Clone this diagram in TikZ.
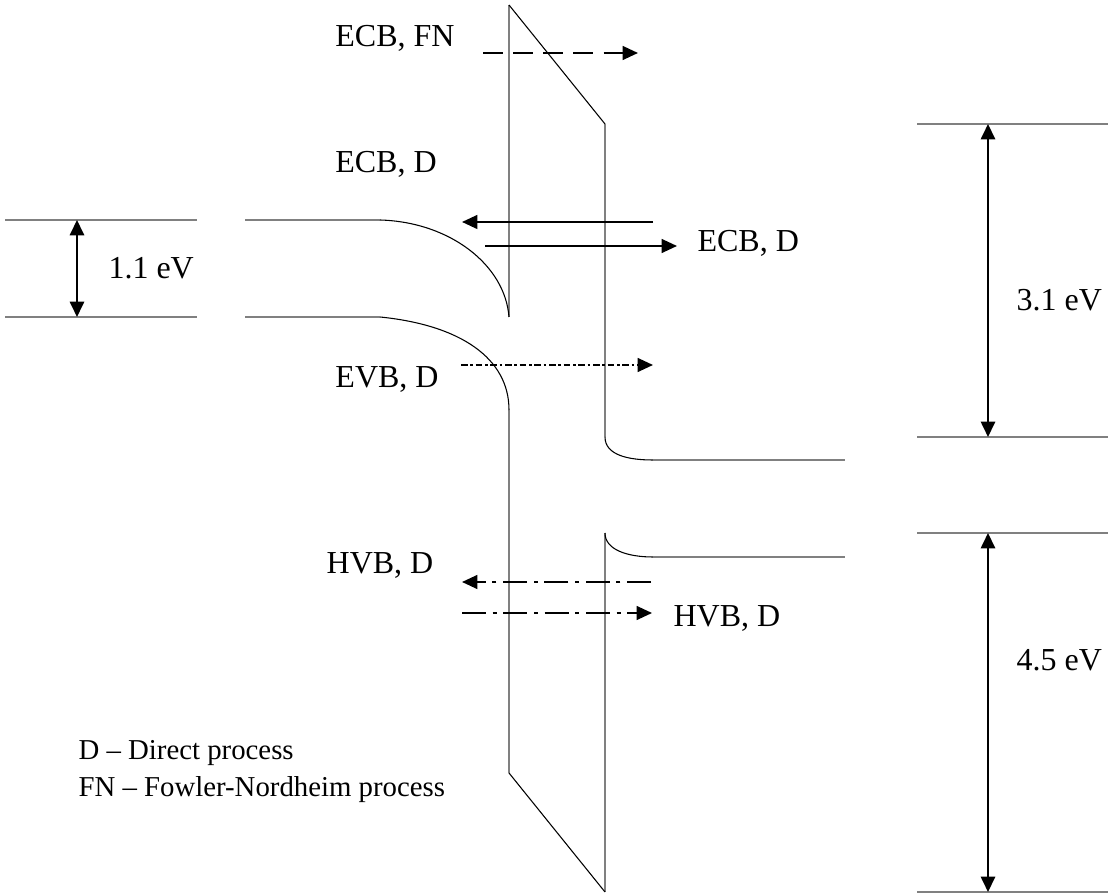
\documentclass[tikz,border=0pt]{standalone}
\usepackage{fontspec}
\setmainfont{Liberation Serif}
\usetikzlibrary{arrows.meta,positioning,calc}

\begin{document}
\begin{tikzpicture}[x=0.375pt,y=-0.375pt,
    band/.style={gray, line width=0.75pt},
    edge/.style={black, line width=0.4pt},
    carrier/.style={line width=0.75pt, -{Triangle[length=5.8pt,width=5.2pt]}},
    gap/.style={line width=0.75pt, {Triangle[length=5.8pt,width=5.4pt]}-{Triangle[length=5.8pt,width=5.4pt]}},
    lbl/.style={inner sep=0pt, font=\fontsize{12}{14}\selectfont},
    keylbl/.style={inner sep=0pt, anchor=west, font=\fontsize{10.8}{13}\selectfont}]
    \useasboundingbox (0,0) rectangle (1112,896);

    % Oxide barrier
    \draw[band] (509,5) -- (509,317);
    \draw[band] (509,410) -- (509,773);
    \draw[band] (605,124) -- (605,437);
    \draw[band] (605,533) -- (605,892);
    \draw[edge] (509,5) -- (605,124);
    \draw[edge] (509,773) -- (605,892);

    % Silicon bands (left)
    \draw[band] (245,220) -- (380,220);
    \draw[edge] (380,220) .. controls (450,222) and (505,265) .. (509,317);
    \draw[band] (245,317) -- (380,317);
    \draw[edge] (380,317) .. controls (460,325) and (509,358) .. (509,410);

    % Bands (right)
    \draw[edge] (605,437) .. controls (605,455) and (628,460) .. (653,460);
    \draw[band] (653,460) -- (845,460);
    \draw[edge] (605,533) .. controls (605,550) and (628,557) .. (653,557);
    \draw[band] (653,557) -- (845,557);

    % Reference levels
    \draw[band] (5,220) -- (197,220);
    \draw[band] (5,317) -- (197,317);
    \draw[band] (917,124) -- (1108,124);
    \draw[band] (917,437) -- (1108,437);
    \draw[band] (917,533) -- (1108,533);
    \draw[band] (917,892) -- (1108,892);

    % Gap markers
    \coordinate (siTop) at (77,220);
    \coordinate (siBot) at (77,317);
    \coordinate (cbTop) at (988,124);
    \coordinate (cbBot) at (988,437);
    \coordinate (vbTop) at (988,533);
    \coordinate (vbBot) at (988,892);
    \draw[gap] (siTop) -- (siBot);
    \draw[gap] (cbTop) -- (cbBot);
    \draw[gap] (vbTop) -- (vbBot);
    \node[lbl, anchor=west] (siGap) at (108,268) {1.1 eV};
    \node[lbl, anchor=west] (cbGap) at (1016,300) {3.1 eV};
    \node[lbl, anchor=west] (vbGap) at (1016,660) {4.5 eV};

    % Tunnelling currents
    \coordinate (fnA) at (483,53);
    \coordinate (fnB) at (638,53);
    \coordinate (ecbInA) at (653,222);
    \coordinate (ecbInB) at (462,222);
    \coordinate (ecbOutA) at (485,246);
    \coordinate (ecbOutB) at (677,246);
    \coordinate (evbA) at (461,365);
    \coordinate (evbB) at (653,365);
    \coordinate (hvbInA) at (651,582);
    \coordinate (hvbInB) at (462,582);
    \coordinate (hvbOutA) at (462,613);
    \coordinate (hvbOutB) at (652,613);
    \draw[carrier, dash pattern=on 7.5pt off 3.8pt] (fnA) -- (fnB);
    \draw[carrier] (ecbInA) -- (ecbInB);
    \draw[carrier] (ecbOutA) -- (ecbOutB);
    \draw[carrier, dash pattern=on 2.5pt off 1pt on 1pt off 1pt] (evbA) -- (evbB);
    \draw[carrier, dash pattern=on 9pt off 2.5pt on 1.5pt off 2.5pt] (hvbInA) -- (hvbInB);
    \draw[carrier, dash pattern=on 9pt off 2.5pt on 1.5pt off 2.5pt] (hvbOutA) -- (hvbOutB);

    % Labels
    \node[lbl] (fnLbl) at (395,38) {ECB, FN};
    \node[lbl] (ecbL) at (386,164) {ECB, D};
    \node[lbl, anchor=west] (ecbR) at (697,243) {ECB, D};
    \node[lbl] (evbL) at (387,379) {EVB, D};
    \node[lbl] (hvbL) at (380,565) {HVB, D};
    \node[lbl, anchor=west] (hvbR) at (673,618) {HVB, D};

    % Legend
    \node[keylbl] (keyD) at (78,753) {D -- Direct process};
    \node[keylbl] (keyFN) at (78,790) {FN -- Fowler-Nordheim process};
\end{tikzpicture}
\end{document}
